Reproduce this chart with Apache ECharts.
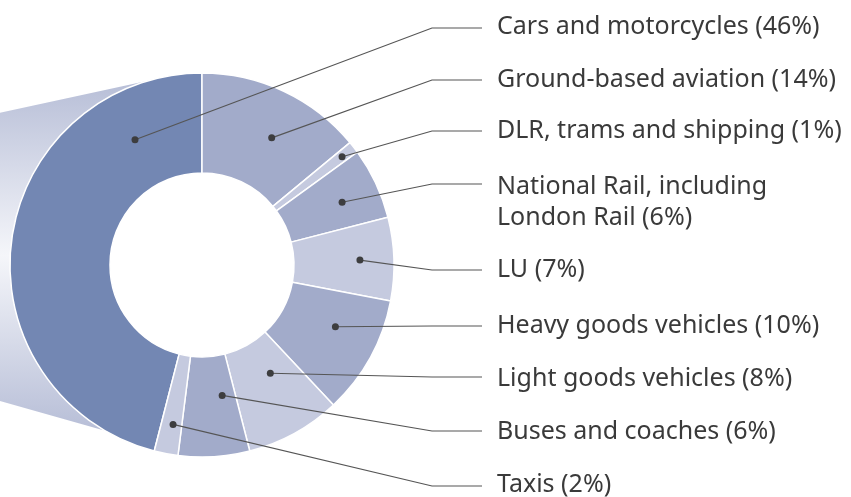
<!DOCTYPE html>
<html>
<head>
<meta charset="utf-8">
<script src="https://cdn.jsdelivr.net/npm/echarts@6/dist/echarts.min.js"></script>
<style>html,body{margin:0;padding:0;background:#fff}#c{width:851px;height:497px}</style>
</head>
<body>
<div id="c"></div>
<script>
// ---- data ----
const categories = ['Cars and motorcycles', 'Ground-based aviation', 'DLR, trams and shipping',
  'National Rail, including\nLondon Rail', 'LU', 'Heavy goods vehicles',
  'Light goods vehicles', 'Buses and coaches', 'Taxis'];
const values = [46, 14, 1, 6, 7, 10, 8, 6, 2];

// ---- styling / layout (not data) ----
const sliceColors = ['#7387b3', '#a2abca', '#c5cadf', '#a2abca', '#c5cadf', '#a2abca', '#c5cadf', '#a2abca', '#c5cadf'];
const CX = 202, CY = 265, R_IN = 92, R_OUT = 192;
const labelX = 497, elbowX = 432, lineEndX = 482;
const lineY = [28, 80, 131, 184, 270, 326, 377, 431, 486];
const textY = [27, 80, 131, 202, 270, 326, 379, 432, 485];
const anchorFrac = [0.83, 0.57, 0.53, 0.55, 0.5, 0.39, 0.38, 0.26, 0.43];   // position of dot within slice span
const anchorRing = [0.50, 0.53, 0.85, 0.615, 0.66, 0.55, 0.36, 0.40, 0.70]; // radial position within ring

const total = values.reduce((a, b) => a + b, 0);
const startAngle = 90 + values[0] / total * 360;

// dot positions derived from slice angles
const dots = [];
let acc = 0;
values.forEach((v, i) => {
  const a0 = startAngle - acc / total * 360;
  const span = v / total * 360;
  const a = (a0 - span * anchorFrac[i]) * Math.PI / 180;
  const rr = R_IN + (R_OUT - R_IN) * anchorRing[i];
  dots.push([CX + rr * Math.cos(a), CY - rr * Math.sin(a)]);
  acc += v;
});

// decorative "cylinder" behind the ring
const topA = 105.7, botA = 240.4;
const poly = [[-5, 113.8]];
for (let t = topA; t <= botA; t += 2) {
  const r = t * Math.PI / 180;
  poly.push([CX + R_OUT * Math.cos(r), CY - R_OUT * Math.sin(r)]);
}
poly.push([-5, 399.5]);

const leaders = dots.map((p, i) => ({
  type: 'polyline', z: 99,
  shape: {points: [p, [elbowX, lineY[i]], [lineEndX, lineY[i]]]},
  style: {stroke: '#555', lineWidth: 1.2, fill: null}
}));
const dotEls = dots.map(p => ({
  type: 'circle', z: 100,
  shape: {cx: p[0], cy: p[1], r: 3.5},
  style: {fill: '#3d3d3f'}
}));

const chart = echarts.init(document.getElementById('c'), null, {renderer: 'canvas'});
chart.setOption({
  animation: false,
  graphic: [
    {
      type: 'polygon', z: 0,
      shape: {points: poly},
      style: {
        fill: new echarts.graphic.LinearGradient(0, 0, 0, 1, [
          {offset: 0, color: '#b7bed7'},
          {offset: 0.5, color: '#f5f6fa'},
          {offset: 1, color: '#b7bed7'}
        ])
      }
    }
  ].concat(leaders, dotEls),
  series: [{
    type: 'pie',
    z: 2,
    center: [CX, CY],
    radius: [R_IN, R_OUT],
    startAngle: startAngle,
    clockwise: true,
    avoidLabelOverlap: false,
    emphasis: {disabled: true},
    itemStyle: {borderColor: '#fff', borderWidth: 1.5},
    label: {
      show: true,
      position: 'outside',
      formatter: p => p.name + ' (' + p.value + '%)',
      color: '#3a3a3a',
      fontFamily: 'Noto Sans',
      fontSize: 25,
      lineHeight: 31
    },
    labelLine: {show: false},
    labelLayout: function (params) {
      const i = params.dataIndex;
      return {x: labelX, y: textY[i], align: 'left', verticalAlign: 'middle'};
    },
    data: categories.map((c, i) => ({name: c, value: values[i], itemStyle: {color: sliceColors[i]}}))
  }]
});
</script>
</body>
</html>
